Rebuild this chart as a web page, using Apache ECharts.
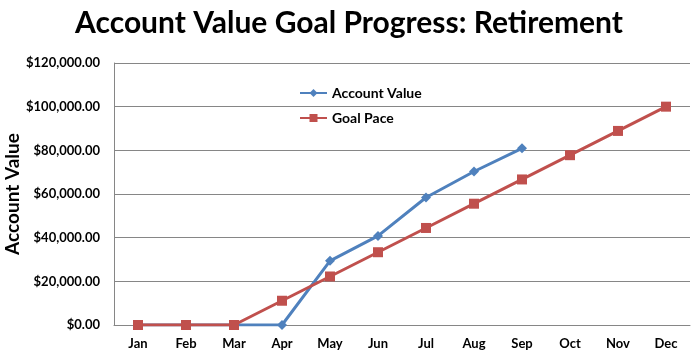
<!DOCTYPE html>
<html><head><meta charset="utf-8">
<script src="https://cdn.jsdelivr.net/npm/echarts@6/dist/echarts.min.js"></script>
<style>html,body{margin:0;padding:0;background:#fff}#c{width:698px;height:358px}</style>
</head><body><div id="c"></div>
<script>
const categories = ['Jan','Feb','Mar','Apr','May','Jun','Jul','Aug','Sep','Oct','Nov','Dec'];
const accountValue = [0, 0, 0, 0, 29400, 40800, 58400, 70300, 80900];
const goalPace = [0, 0, 0, 11111, 22222, 33333, 44444, 55556, 66667, 77778, 88889, 100000];
const yTicks = { min: 0, max: 120000, interval: 20000 };
const titleText = 'Account Value Goal Progress: Retirement';
const yName = 'Account Value';
const seriesNames = ['Account Value', 'Goal Pace'];

const font = 'Lato, "Open Sans", sans-serif';
const chart = echarts.init(document.getElementById('c'));
chart.setOption({
  animation: false,
  title: { text: titleText, left: 'center', top: 3,
    textStyle: { fontFamily: font, fontSize: 30, fontWeight: 'bold', color: '#000' } },
  legend: { orient: 'vertical', left: 294, top: 81, itemGap: 11, itemWidth: 27, itemHeight: 10,
    textStyle: { fontFamily: font, fontSize: 14, fontWeight: 'bold', color: '#000' },
    data: seriesNames },
  graphic: [{
    type: 'text', x: 13, y: 194, rotation: Math.PI / 2,
    style: { text: yName, fontFamily: font, fontSize: 19, fontWeight: 'bold', fill: '#000',
      align: 'center', verticalAlign: 'middle' }
  }],
  grid: { left: 114, right: 8, top: 63, bottom: 33, containLabel: false, outerBoundsMode: 'none' },
  xAxis: { type: 'category', data: categories, boundaryGap: true,
    axisLine: { lineStyle: { color: '#868686' } }, axisTick: { show: false },
    axisLabel: { fontFamily: font, fontSize: 13, fontWeight: 'bold', color: '#000', margin: 12 } },
  yAxis: { type: 'value', min: yTicks.min, max: yTicks.max, interval: yTicks.interval,
    axisLine: { show: true, lineStyle: { color: '#868686' } },
    axisTick: { show: false },
    splitLine: { lineStyle: { color: '#868686' } },
    axisLabel: { fontFamily: font, fontSize: 13, fontWeight: 'bold', color: '#000', margin: 14,
      formatter: v => '$' + v.toLocaleString('en-US', { minimumFractionDigits: 2, maximumFractionDigits: 2 }) } },
  series: [
    { name: seriesNames[1], type: 'line', data: goalPace, symbol: 'rect', symbolSize: 10,
      lineStyle: { color: '#C0504D', width: 3 }, itemStyle: { color: '#C0504D' }, z: 2 },
    { name: seriesNames[0], type: 'line', data: accountValue, symbol: 'diamond', symbolSize: 10,
      lineStyle: { color: '#4F81BD', width: 3 }, itemStyle: { color: '#4F81BD' }, z: 1 }
  ]
});
</script></body></html>
